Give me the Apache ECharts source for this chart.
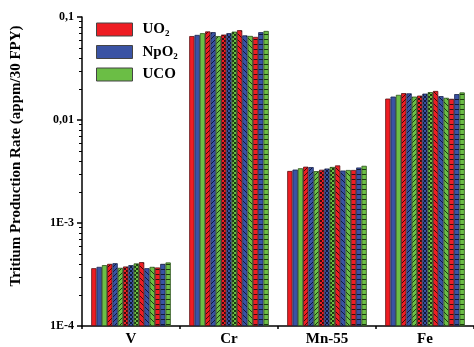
<!DOCTYPE html>
<html>
<head>
<meta charset="utf-8">
<script src="https://cdn.jsdelivr.net/npm/echarts@6/dist/echarts.min.js"></script>
<style>
html, body { margin: 0; padding: 0; background: #fff; }
#chart { width: 474px; height: 347px; }
</style>
</head>
<body>
<div id="chart"></div>
<script>
var categories = ['V', 'Cr', 'Mn-55', 'Fe'];
var materials = ['UO2', 'NpO2', 'UCO'];
var patterns = ['solid', 'fwd', 'check', 'back', 'rows'];

// 15 bars per element: 5 hatch groups x (UO2, NpO2, UCO)
var vValues  = [3.64e-4, 3.75e-4, 3.90e-4, 4.01e-4, 4.07e-4, 3.67e-4, 3.78e-4, 3.90e-4, 4.05e-4, 4.17e-4, 3.64e-4, 3.75e-4, 3.70e-4, 4.01e-4, 4.14e-4];
var crValues = [0.0653, 0.0670, 0.0696, 0.0724, 0.0713, 0.0653, 0.0675, 0.0697, 0.0721, 0.0745, 0.0663, 0.0655, 0.0641, 0.0712, 0.0732];
var mnValues = [3.20e-3, 3.30e-3, 3.40e-3, 3.52e-3, 3.49e-3, 3.19e-3, 3.29e-3, 3.38e-3, 3.50e-3, 3.62e-3, 3.23e-3, 3.27e-3, 3.27e-3, 3.46e-3, 3.59e-3];
var feValues = [0.01613, 0.01687, 0.01755, 0.01823, 0.01815, 0.01687, 0.01725, 0.01803, 0.01864, 0.01914, 0.01706, 0.01642, 0.01606, 0.01783, 0.01851];

var yTickValues = [1e-4, 1e-3, 1e-2, 1e-1];
var yTickLabels = ['1E-4', '1E-3', '0,01', '0,1'];

var valuesByCategory = [vValues, crValues, mnValues, feValues];
var fills = ['#EE1D23', '#3A53A4', '#6BBE45'];
var inks  = ['#3d0a0c', '#121a38', '#1c3810'];
var edges = ['#5a1214', '#1a2450', '#2b5219'];
var serif = '"Liberation Serif", "Times New Roman", serif';

// the value axis counts decades above the axis floor (1E-4), so bars grow from the bottom
var floorLog = Math.log10(yTickValues[0]);
function decades(v) { return Math.log10(v) - floorLog; }

var minorTicks = [];
for (var e = -4; e < -1; e++) {
    for (var k = 2; k <= 9; k++) minorTicks.push(decades(k * Math.pow(10, e)));
}

function makeFill(kind, base, ink) {
    if (kind === 'solid') return base;
    var s = kind === 'check' ? 4 : (kind === 'back' ? 6 : 5);
    var c = document.createElement('canvas');
    c.width = s; c.height = s;
    var g = c.getContext('2d');
    g.fillStyle = base;
    g.fillRect(0, 0, s, s);
    g.fillStyle = ink;
    g.strokeStyle = ink;
    g.lineWidth = 1;
    if (kind === 'fwd' || kind === 'back') {
        g.beginPath();
        [-s, 0, s].forEach(function (o) {
            if (kind === 'fwd') { g.moveTo(o, s); g.lineTo(o + s, 0); }
            else { g.moveTo(o, 0); g.lineTo(o + s, s); }
        });
        g.stroke();
    } else if (kind === 'check') {
        g.fillRect(0, 0, 2, 2);
        g.fillRect(2, 2, 2, 2);
    } else if (kind === 'rows') {
        g.fillRect(0, s - 1, s, 1);
    }
    return { image: c, repeat: 'repeat' };
}

var series = [];
var idx = 0;
patterns.forEach(function (p) {
    materials.forEach(function (m, j) {
        var i = idx++;
        series.push({
            name: p === 'solid' ? m : m + ' ' + p,
            type: 'bar',
            yAxisIndex: 0,
            barGap: '0%',
            barCategoryGap: '18.8%',
            data: categories.map(function (c, n) { return decades(valuesByCategory[n][i]); }),
            itemStyle: {
                color: makeFill(p, fills[j], inks[j]),
                borderColor: edges[j],
                borderWidth: 0.8
            },
            emphasis: { disabled: true }
        });
    });
});

var chart = echarts.init(document.getElementById('chart'));
chart.setOption({
    animation: false,
    backgroundColor: '#fff',
    grid: { left: 82, top: 17, bottom: 20, width: 404 },
    legend: {
        data: materials,
        orient: 'vertical',
        left: 96,
        top: 22,
        padding: 0,
        itemWidth: 36,
        itemHeight: 13,
        itemGap: 6,
        icon: 'rect',
        itemStyle: { borderColor: '#444', borderWidth: 1 },
        formatter: function (name) { return name.replace(/2$/, '{sub|2}'); },
        textStyle: {
            fontFamily: serif,
            fontWeight: 'bold',
            fontSize: 15,
            color: '#000',
            padding: [0, 0, 0, 5],
            rich: {
                sub: { fontFamily: serif, fontWeight: 'bold', fontSize: 9, color: '#000', padding: [9, 0, 0, 0] }
            }
        }
    },
    xAxis: {
        type: 'category',
        data: categories,
        axisLine: { lineStyle: { color: '#000', width: 1.5 } },
        axisTick: { show: true, length: 3, lineStyle: { color: '#000', width: 1.5 } },
        axisLabel: { margin: 6, fontFamily: serif, fontWeight: 'bold', fontSize: 15, color: '#000' }
    },
    yAxis: [{
        type: 'value',
        min: 0,
        max: yTickValues.length - 1,
        interval: 1,
        axisLine: { show: true, lineStyle: { color: '#000', width: 1.5 } },
        axisTick: { show: true, length: 5, lineStyle: { color: '#000', width: 1.5 } },
        splitLine: { show: false },
        axisLabel: {
            margin: 8,
            fontFamily: serif,
            fontWeight: 'bold',
            fontSize: 12,
            color: '#000',
            formatter: function (v) { return yTickLabels[Math.round(v)] || ''; }
        }
    }, {
        type: 'value',
        min: 0,
        max: yTickValues.length - 1,
        position: 'left',
        axisLine: { show: false },
        axisLabel: { show: false },
        splitLine: { show: false },
        axisTick: { show: true, length: 3, customValues: minorTicks, lineStyle: { color: '#000', width: 1 } }
    }],
    graphic: [{
        type: 'text',
        x: 16,
        y: 156,
        rotation: Math.PI / 2,
        style: {
            text: 'Tritium Production Rate (appm/30 FPY)',
            font: 'bold 15px ' + serif,
            fill: '#000',
            align: 'center',
            verticalAlign: 'middle'
        }
    }],
    series: series
});
</script>
</body>
</html>
